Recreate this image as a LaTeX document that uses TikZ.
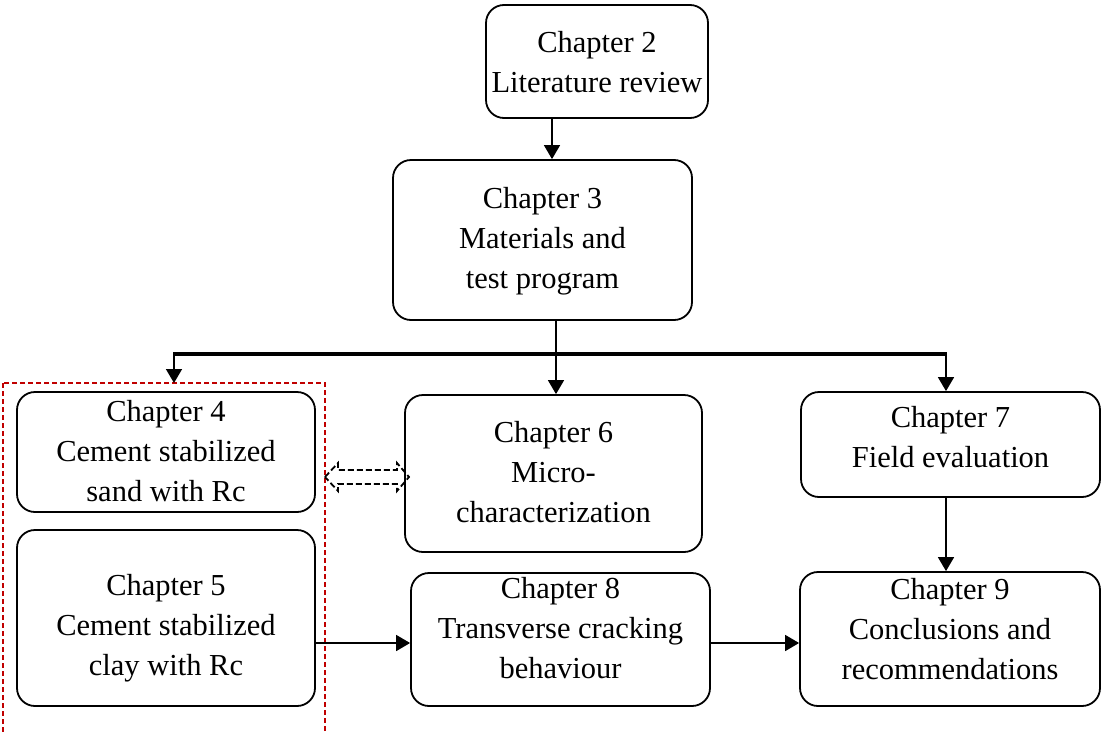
\documentclass[tikz,border=0pt]{standalone}
\usepackage{fontspec}
\setmainfont{Liberation Serif}
\usetikzlibrary{arrows.meta,calc}
\definecolor{dred}{HTML}{C00000}
\begin{document}
\begin{tikzpicture}[x=1pt,y=-1pt,
 box/.style={draw,rounded corners=18pt,line width=1.8pt,inner sep=0pt},
 txt/.style={align=center,font=\fontsize{30.5}{40}\selectfont,inner sep=0pt},
 arr/.style={line width=1.6pt,-{Triangle[length=14pt,width=16pt]}},
 bus/.style={line width=3.5pt},
 frame/.style={draw=dred,line width=1.3pt,dash pattern=on 5pt off 3pt},
 dbl/.style={draw,line width=1.8pt,dash pattern=on 6pt off 3pt}]
\useasboundingbox (0,0) rectangle (1110,731);
\node[box,minimum width=222pt,minimum height=113pt] (ch2) at (597,61.5) {};
\node[txt] (t2) at ([yshift=-1pt]ch2.center) {Chapter 2\\Literature review};
\node[box,minimum width=299pt,minimum height=160pt] (ch3) at (542.5,240) {};
\node[txt] (t3) at ([yshift=-1pt]ch3.center) {Chapter 3\\Materials and\\test program};
\node[box,minimum width=298pt,minimum height=120pt] (ch4) at (166,452) {};
\node[txt] (t4) at ([yshift=1pt]ch4.center) {Chapter 4\\Cement stabilized\\sand with Rc};
\node[box,minimum width=298pt,minimum height=176pt] (ch5) at (166,618) {};
\node[txt] (t5) at ([yshift=-10pt]ch5.center) {Chapter 5\\Cement stabilized\\clay with Rc};
\node[box,minimum width=297pt,minimum height=157pt] (ch6) at (553.5,473.5) {};
\node[txt] (t6) at ([yshift=1pt]ch6.center) {Chapter 6\\Micro-\\characterization};
\node[box,minimum width=299pt,minimum height=105pt] (ch7) at (950.5,444.5) {};
\node[txt] (t7) at ([yshift=7pt]ch7.center) {Chapter 7\\Field evaluation};
\node[box,minimum width=299pt,minimum height=133pt] (ch8) at (560.5,639.5) {};
\node[txt] (t8) at ([yshift=11pt]ch8.center) {Chapter 8\\Transverse cracking\\behaviour};
\node[box,minimum width=300pt,minimum height=134pt] (ch9) at (950,639) {};
\node[txt] (t9) at ([yshift=10pt]ch9.center) {Chapter 9\\Conclusions and\\recommendations};
% group frame
\coordinate (gtl) at (3,383);
\coordinate (gbr) at (325,740);
\draw[frame] (gtl) rectangle (gbr);
% Ch2 -> Ch3
\draw[arr] ([xshift=-45pt]ch2.south) -- ([xshift=-45pt]ch2.south |- ch3.north);
% bus
\coordinate (busL) at (174,354);
\coordinate (busM) at (556,354);
\coordinate (busR) at (946,354);
\draw[bus] ([xshift=-0.8pt]busL) -- ([xshift=0.8pt]busR);
\draw[line width=1.6pt] (busM |- ch3.south) -- (busM);
\draw[arr] (busL) -- (busL |- gtl);
\draw[arr] (busM) -- (busM |- ch6.north);
\draw[arr] (busR) -- (busR |- ch7.north);
\draw[arr] (busR |- ch7.south) -- (busR |- ch9.north);
% bottom row
\coordinate (r8) at ([yshift=-3.5pt]ch8.west);
\draw[arr] (ch5.east |- r8) -- (r8);
\draw[arr] ([yshift=-3.5pt]ch8.east) -- ([yshift=-3.5pt]ch8.east -| ch9.west);
% dashed double arrow between Ch4 and Ch6
\draw[dbl] (325,477) -- (338,463) -- (338,470) -- (397,470) -- (397,463) -- (409,477)
  -- (397,491) -- (397,484) -- (338,484) -- (338,491) -- cycle;
\end{tikzpicture}
\end{document}
